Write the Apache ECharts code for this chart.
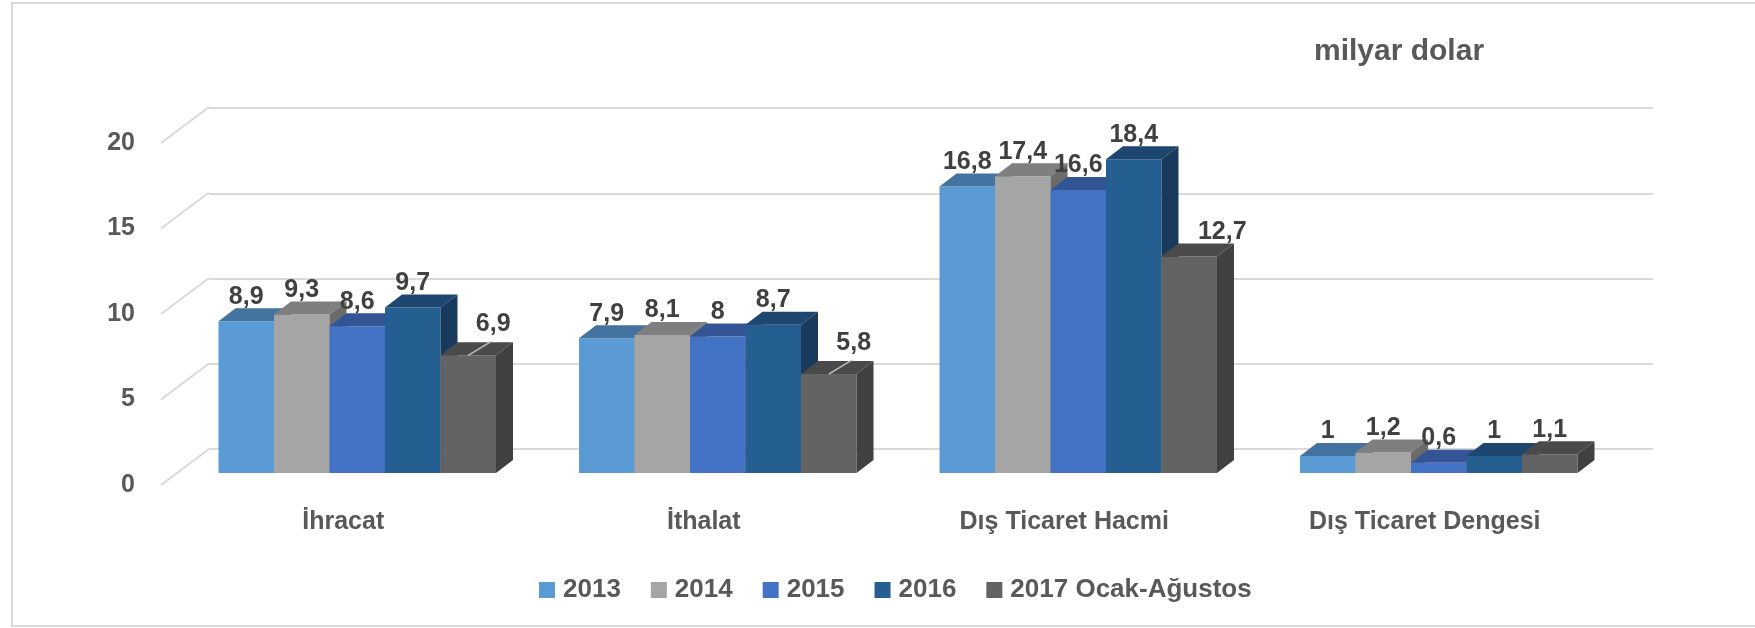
<!DOCTYPE html>
<html>
<head>
<meta charset="utf-8">
<title>Dış ticaret</title>
<script src="https://cdn.jsdelivr.net/npm/echarts@6/dist/echarts.min.js"></script>
<style>
  html, body { margin: 0; padding: 0; background: #fff; }
  #chart { width: 1755px; height: 628px; }
</style>
</head>
<body>
<div id="chart"></div>
<script>
  // data (milyar dolar)
  var categories = ['İhracat', 'İthalat', 'Dış Ticaret Hacmi', 'Dış Ticaret Dengesi'];
  var seriesNames = ['2013', '2014', '2015', '2016', '2017 Ocak-Ağustos'];
  var v2013 = [8.9, 7.9, 16.8, 1];
  var v2014 = [9.3, 8.1, 17.4, 1.2];
  var v2015 = [8.6, 8, 16.6, 0.6];
  var v2016 = [9.7, 8.7, 18.4, 1];
  var v2017 = [6.9, 5.8, 12.7, 1.1];
  var yTicks = [0, 5, 10, 15, 20];

  var allValues = [v2013, v2014, v2015, v2016, v2017];
  // front, top, side colours of each 3d bar
  var faces = [
    ['#5B9BD5', '#44739F', '#3A6590'],
    ['#A5A5A5', '#7F7F7F', '#6B6B6B'],
    ['#4472C4', '#335595', '#2D4C85'],
    ['#255E91', '#1D476E', '#183A5C'],
    ['#636363', '#4A4A4A', '#404040']
  ];

  var FONT = '"Liberation Sans", Arial, sans-serif';
  var BAR_W = 55.5, DX = 17, DY = 13;   // bar width and depth
  var WALL_X = 48, WALL_Y = 36;         // side wall depth

  function fmt(v) { return String(v).replace('.', ','); }

  function barRenderer(k) {
    return function (params, api) {
      var c = api.value(0), v = api.value(1);
      var topPt = api.coord([c, v]);
      var base = api.coord([c, 0])[1];
      var left = topPt[0] + (k - 2.5) * BAR_W;
      var right = left + BAR_W;
      var top = topPt[1];
      var f = faces[k];
      var lx = left + BAR_W / 2, ly = top - 12;
      var children = [
        { type: 'rect', shape: { x: left, y: top, width: BAR_W, height: base - top }, style: { fill: f[0] } },
        { type: 'polygon', shape: { points: [[left, top], [right, top], [right + DX, top - DY], [left + DX, top - DY]] }, style: { fill: f[1] } },
        { type: 'polygon', shape: { points: [[right, top], [right + DX, top - DY], [right + DX, base - DY], [right, base]] }, style: { fill: f[2] } }
      ];
      // label hidden behind a taller neighbour: push it out to the right
      var gap = k > 0 ? allValues[k - 1][c] - v : 0;
      if (gap > 5) {
        lx += 33;
      } else if (gap > 1) {
        children.push({
          type: 'line', z2: 50,
          shape: { x1: lx, y1: top, x2: lx + 23, y2: top - 14 },
          style: { stroke: '#BFBFBF', lineWidth: 1.5 }
        });
        lx += 25;
        ly -= 7;
      }
      children.push({
        type: 'text', z2: 100,
        style: {
          x: lx, y: ly,
          text: fmt(v), align: 'center', verticalAlign: 'bottom',
          fill: '#404040', font: 'bold 25px ' + FONT
        }
      });
      return { type: 'group', children: children };
    };
  }

  var series = allValues.map(function (vals, k) {
    return {
      name: seriesNames[k],
      type: 'custom',
      xAxisIndex: 0,
      yAxisIndex: 0,
      itemStyle: { color: faces[k][0] },
      renderItem: barRenderer(k),
      data: vals.map(function (v, i) { return [i, v]; })
    };
  });

  // slanted floor/side wall lines
  series.push({
    type: 'custom',
    xAxisIndex: 2,
    yAxisIndex: 2,
    silent: true,
    z: 1,
    renderItem: function (params, api) {
      var p = api.coord([0, api.value(0)]);
      return {
        type: 'line',
        shape: { x1: p[0], y1: p[1], x2: p[0] + WALL_X, y2: p[1] - WALL_Y },
        style: { stroke: '#D9D9D9', lineWidth: 2 }
      };
    },
    data: yTicks.map(function (t) { return [t]; })
  });

  var chart = echarts.init(document.getElementById('chart'));
  chart.setOption({
    backgroundColor: '#fff',
    animation: false,
    title: {
      text: 'milyar dolar',
      left: 1309,
      top: 32,
      textStyle: { fontFamily: FONT, fontSize: 30, fontWeight: 'bold', color: '#595959' }
    },
    legend: {
      data: seriesNames,
      left: 534,
      top: 572,
      icon: 'rect',
      itemWidth: 16,
      itemHeight: 16,
      itemGap: 30,
      textStyle: { fontFamily: FONT, fontSize: 26, fontWeight: 'bold', color: '#595959', padding: [0, 0, 0, 3] }
    },
    graphic: [{
      type: 'rect', silent: true,
      shape: { x: 12, y: 3, width: 1800, height: 623 },
      style: { fill: 'none', stroke: '#D9D9D9', lineWidth: 2 }
    }],
    grid: [
      { left: 177, right: 136, top: 132, bottom: 155 },   // bar fronts
      { left: 209, right: 102, top: 108, bottom: 179 },   // back wall
      { left: 161, right: 102, top: 143, bottom: 143 }    // front edge, tick labels
    ],
    xAxis: [
      {
        type: 'category', gridIndex: 0, data: categories,
        axisLine: { show: false }, axisTick: { show: false },
        // labels sit on the front edge of the floor, a bit left of the bars
        axisLabel: { margin: 37, padding: [0, 28, 0, 0], fontFamily: FONT, fontSize: 25, fontWeight: 'bold', color: '#595959' }
      },
      { type: 'value', gridIndex: 1, show: false, min: 0, max: 1 },
      { type: 'value', gridIndex: 2, show: false, min: 0, max: 1 }
    ],
    yAxis: [
      { type: 'value', gridIndex: 0, min: 0, max: 20, interval: 5, show: false },
      {
        type: 'value', gridIndex: 1, min: 0, max: 20, interval: 5,
        axisLine: { show: false }, axisTick: { show: false }, axisLabel: { show: false },
        splitLine: { show: true, lineStyle: { color: '#D9D9D9', width: 2 } }
      },
      {
        type: 'value', gridIndex: 2, min: 0, max: 20, interval: 5,
        axisLine: { show: false }, axisTick: { show: false }, splitLine: { show: false },
        axisLabel: { margin: 26, fontFamily: FONT, fontSize: 25, fontWeight: 'bold', color: '#595959' }
      }
    ],
    series: series
  });
</script>
</body>
</html>
